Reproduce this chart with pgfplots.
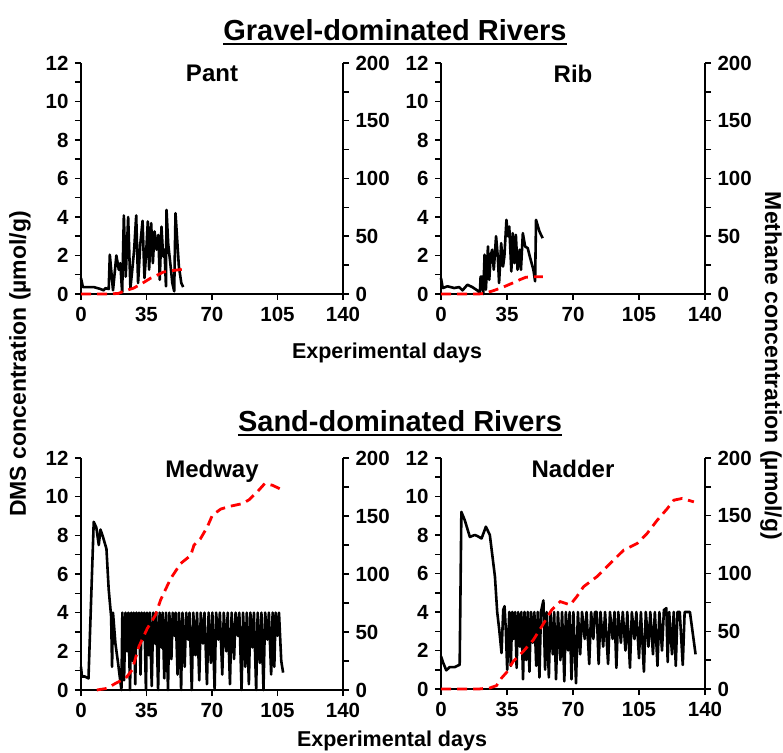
\documentclass[border=0pt]{standalone}
\usepackage{fontspec}
\setmainfont{Liberation Sans}
\usepackage{pgfplots}
\pgfplotsset{compat=1.18}

\definecolor{ch4red}{RGB}{255,0,0}

\tikzset{
  paneltitle/.style={anchor=north, inner sep=0pt, yshift=-2pt,
    font=\bfseries\fontsize{24}{24}\selectfont},
}

\pgfplotsset{
  riverbase/.style={
    scale only axis, anchor=south west,
    xmin=0, xmax=140,
    tick align=outside,
    major tick length=6pt, minor tick length=6pt,
    tick style={black, line width=1.5pt},
    axis line style={black, line width=1.8pt},
    ticklabel style={font=\bfseries\fontsize{20.5}{20.5}\selectfont},
    /pgf/number format/assume math mode=true,
    clip=false,
  },
  dmsaxis/.style={riverbase,
    ymin=0, ymax=12,
    axis x line*=bottom, axis y line*=left,
    xtick={0,35,70,105,140}, ytick={0,2,...,12}, minor ytick={1,3,...,11},
    yticklabel style={xshift=-3pt},
    xticklabel style={yshift=-4pt},
  },
  ch4axis/.style={riverbase,
    ymin=0, ymax=200,
    axis x line=none, axis y line*=right, xtick=\empty,
    ytick={0,50,...,200}, minor ytick={25,75,...,175},
    yticklabel style={xshift=3pt},
  },
  dms/.style={black, line width=2.6pt, line join=round, no marks},
  ch4/.style={ch4red, line width=2.8pt, dash pattern=on 10pt off 6pt, no marks},
}

\begin{document}
\begin{tikzpicture}[x=1pt,y=1pt]
\useasboundingbox (0,0) rectangle (783,752);

% ---------------- Pant ----------------
\begin{axis}[dmsaxis, at={(81pt,458pt)}, width=262pt, height=231pt]
\addplot[dms] table {
0 0.83
1 0.36
6.8 0.36
10.4 0.26
12.1 0.19
13 0.30
14.8 0.26
15.4 2.04
17.1 0.19
18.9 2.00
20.2 1.26
21 1.60
22 0.05
22.9 4.08
23.9 0.90
25.2 4.00
26.4 0.30
27.4 1.26
28.4 2.30
29.5 4.08
30.5 0.57
31.7 2.60
32.9 3.80
33.9 0.83
34.8 2.10
35.7 3.77
36.4 1.26
37.5 3.68
38.4 1.60
39.3 3.25
40.4 2.30
41.3 3.07
42.1 0.74
43 3.50
43.9 1.95
44.6 2.30
45.4 0.40
45.7 4.37
46.6 2.60
47.9 1.43
48.8 0.57
49.8 0.14
50.5 4.20
52.3 1.43
53.6 0.57
54.6 0.36
};
\node[paneltitle] at (rel axis cs:0.5,1) {Pant};
\end{axis}
\begin{axis}[ch4axis, at={(81pt,458pt)}, width=262pt, height=231pt]
\addplot[ch4] table {
0 0
5 0
10 0
15 0
20 0.5
23 2.5
28 5
32.5 9
37 13.5
41 16.5
44 19
50 20.5
54.8 21.5
};
\end{axis}

% ---------------- Rib ----------------
\begin{axis}[dmsaxis, at={(441pt,458pt)}, width=264pt, height=231pt]
\addplot[dms] table {
0 0.83
0.9 0.31
3.5 0.40
7 0.31
9.6 0.36
11.4 0.19
14 0.48
16.6 0.36
19.2 0.19
20.6 0.05
21 0.90
21.9 0.90
22.4 0
23.1 2.04
23.8 0.22
24.9 2.47
25.6 0.74
26.3 1.95
27.1 2.30
28 1.26
29.2 3.00
30.1 1.95
30.8 0.57
31.9 2.64
32.9 1.43
33.6 1.95
34.7 3.85
35.5 3.00
36.2 3.50
37.3 1.17
38 3.16
38.9 1.60
39.7 3.07
40.6 1.26
41.7 2.30
42.4 1.26
43.4 3.16
44.6 2.47
46 2.38
47.3 1.87
49 1.26
49.9 0.66
50.4 3.85
52.2 3.25
53.9 2.90
};
\node[paneltitle] at (rel axis cs:0.5,1) {Rib};
\end{axis}
\begin{axis}[ch4axis, at={(441pt,458pt)}, width=264pt, height=231pt]
\addplot[ch4] table {
0 0
10 0
20 0
23 0.5
28 3
33 6
38 9.5
42 12.5
45 14.5
50 15
54 15
};
\end{axis}

% ---------------- Medway ----------------
\begin{axis}[dmsaxis, at={(81pt,62pt)}, width=262pt, height=232pt]
\addplot[dms] table {
0 1.2
0.5 0.7
2 0.7
4 0.6
6.8 8.7
8.2 8.4
9.5 7.5
10.4 8.3
11.8 7.9
13.6 7.3
14.8 5.2
16.1 3.8
16.6 1.2
17.1 4.0
18.4 2.4
19.8 1.4
21.6 0
22.1 4
23.0 0.5
23.8 4
24.6 2.0
25.3 4
26.2 0
26.8 4
27.6 1.5
28.2 4
29 0.3
29.6 4
30.4 2.2
31 4
31.8 0.8
32.4 4
33.3 2.6
33.8 4
34.7 0
35.3 4
36.2 1.8
36.8 4
37.8 0.2
38.6 4
39.6 2.4
40.2 4
41.2 0
42 4
43 2.2
43.6 4
44.5 0.6
45.4 4
46.5 0
47.2 4
48.3 1.6
49 4
50 2.8
50.6 4
51.6 0.8
52.4 4
53.5 0
54.2 4
55.4 1.2
56.2 4
57.3 2.6
58 4
59.2 0
60 4
61.2 1.8
62 4
63.2 0.5
64 4
65.2 2.4
66 4
67.3 0.3
68.2 4
69.4 1.4
70.2 4
71.4 0
72.2 4
73.4 2.6
74.2 4
75.5 0.8
76.3 4
77.6 2.0
78.4 4
79.6 0.3
80.5 4
81.8 1.6
82.6 4
83.8 2.8
84.6 4
85.8 0
86.6 4
87.8 1.2
88.6 4
89.7 0.3
90.5 4
91.6 2.2
92.4 4
93.6 0
94.4 4
95.6 1.4
96.4 4
97.5 0
98.4 4
99.6 2.6
100.4 4
101.6 0.8
102.4 4
103.3 1.2
104 4
105 2.8
105.8 4
107 1.5
108 0.9
};
\node[paneltitle] at (rel axis cs:0.5,1) {Medway};
\end{axis}
\begin{axis}[ch4axis, at={(81pt,62pt)}, width=262pt, height=232pt]
\addplot[ch4] table {
8.4 0
13.9 1.4
18.4 5.7
23.8 10
27.3 17.2
30.9 37.3
35.4 53
39.8 64.6
42.5 77.5
47.9 96
53.2 109
58.6 116
60.4 125
63.9 130.6
67.5 140.6
70.2 150.7
74.7 156
80 158.5
86.3 160.7
89.8 164
94.3 171
98.2 178
102.3 176.5
108.2 172
};
\end{axis}

% ---------------- Nadder ----------------
\begin{axis}[dmsaxis, at={(441pt,63pt)}, width=264pt, height=231pt]
\addplot[dms] table {
0 1.7
1 1.4
2.8 0.97
4.6 1.14
7.3 1.14
9.9 1.26
10.8 9.2
12.6 8.77
15.3 7.9
17.9 8.0
19.2 7.95
21.5 7.82
23.8 8.43
25.9 8.0
28.6 5.84
29.8 4.0
30.9 3.07
32.1 1.87
33 4.1
33.7 4.3
34.4 3.0
35.1 1.0
36.2 4.0
37 1.2
37.8 4.0
38.5 2.6
39.3 4
40.1 1.1
40.9 4
41.8 2.2
42.6 4
43.5 0.5
44.3 4
45.2 1.5
46 4
46.9 0.9
47.7 4
48.7 2.4
49.5 4
50.5 1.2
51.3 4
52.2 0.6
53 4
54.3 4.6
55.2 1.0
56 4
57.2 0.6
58 4
59.3 1.8
60 4
61 0.5
62 4
63.3 1.5
64.2 4
65.4 0.4
66.2 4
67.4 2.0
68.2 4
69.2 0.5
70.2 4
71.6 0.3
72.6 4
73.8 1.8
74.8 4
76.2 2.6
77.2 4
78.6 1.3
79.6 4
80.8 2.6
81.6 4
82.6 4
83.6 1.3
84.6 4
86 2.2
87 4
88.6 1.3
89.6 4
91 2.6
92 4
93 1.1
94 4
95.4 2.4
96.4 4
97.8 2.0
98.8 4
100.2 1.1
101.2 4
102.6 2.6
103.6 4
105 1.6
106 4
107.6 0.9
108.6 4
110 2.2
111 4
112.4 1.8
113.4 4
114.8 1.2
115.8 4
117.2 2.0
118.2 4.1
119.5 4.2
120.2 1.4
121 4
122.5 1.8
123.4 4
124.5 1.2
125.4 4
126.6 4
128.2 1.25
129.2 4
132 4
135 1.8
};
\node[paneltitle] at (rel axis cs:0.5,1) {Nadder};
\end{axis}
\begin{axis}[ch4axis, at={(441pt,63pt)}, width=264pt, height=231pt]
\addplot[ch4] table {
0 0
10 0
20 0
25.9 0.9
29.4 2.9
32.1 9.5
34.8 14.4
38.3 23.9
43.6 32.5
49 42.6
53.4 54.1
58.7 68.5
63.2 75.7
68.5 72.8
72 80
75.6 88.6
82.7 97.3
89.8 108.8
96.9 120.3
104 126
109.3 134.7
114.6 146
119.9 156
123.5 163.5
127.9 165
134.1 162
};
\end{axis}

% ---------------- headings and axis titles ----------------
\node[anchor=base, inner sep=0pt, font=\bfseries\fontsize{29}{29}\selectfont] (grav) at (395,711) {Gravel-dominated Rivers};
\draw[line width=1.8pt] ([yshift=-3pt]grav.base west) -- ([yshift=-3pt]grav.base east);
\node[anchor=base, inner sep=0pt, font=\bfseries\fontsize{29}{29}\selectfont] (sand) at (400,320) {Sand-dominated Rivers};
\draw[line width=1.8pt] ([yshift=-3pt]sand.base west) -- ([yshift=-3pt]sand.base east);

\node[anchor=base, inner sep=0pt, font=\bfseries\fontsize{21.5}{21.5}\selectfont] at (387,393) {Experimental days};
\node[anchor=base, inner sep=0pt, font=\bfseries\fontsize{21.5}{21.5}\selectfont] at (392,6) {Experimental days};

\node[rotate=90, inner sep=0pt, font=\bfseries\fontsize{23}{23}\selectfont] at (20,388) {DMS concentration (µmol/g)};
\node[rotate=-90, inner sep=0pt, font=\bfseries\fontsize{23}{23}\selectfont] at (771,386) {Methane concentration (µmol/g)};
\end{tikzpicture}
\end{document}
